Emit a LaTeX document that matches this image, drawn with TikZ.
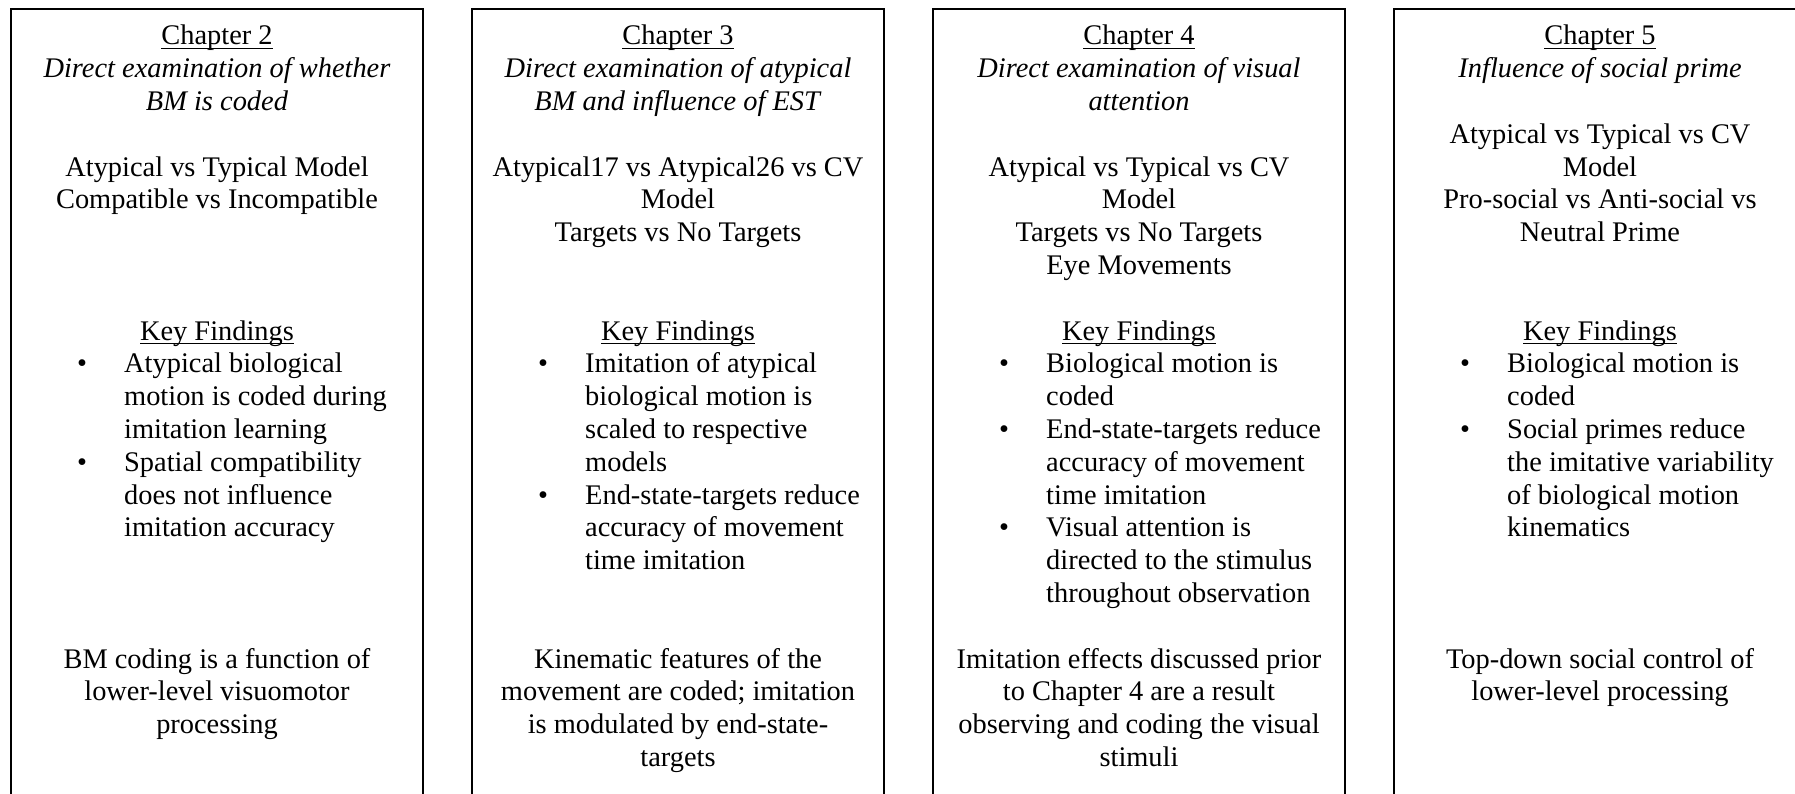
\documentclass[tikz,border=0pt]{standalone}
\usepackage{fontspec}
\setmainfont{Liberation Serif}

% underline at a fixed depth below the baseline
\newcommand\ulined[1]{\setbox0\hbox{#1}\rlap{\rule[-4.2pt]{\wd0}{1.5pt}}\box0}

% baseline of text row #1 (rows are evenly spaced)
\newcommand\rowy[1]{45+(#1-1)*32.79}

% centred rows: #1 name prefix, #2 x centre, #3 first row, #4 list of rows
\newcommand\putlines[4]{%
  \foreach \rowtxt [count=\kk from 0] in {#4} {
    \pgfmathtruncatemacro\rowno{#3+\kk}
    \node[txt] (#1-\rowno) at (#2,{\rowy{\rowno}}) {\rowtxt};
  }}

% bulleted item: #1 name prefix, #2 panel left edge, #3 first row, #4 list of rows
\newcommand\bullist[4]{%
  \pgfmathtruncatemacro\firstrow{#3}
  \node[txt] (#1-dot\firstrow) at ({#2+71},{\rowy{#3}}) {•};
  \foreach \rowtxt [count=\kk from 0] in {#4} {
    \pgfmathtruncatemacro\rowno{#3+\kk}
    \node[btxt] (#1-\rowno) at ({#2+113},{\rowy{\rowno}}) {\rowtxt};
  }}

\begin{document}
\begin{tikzpicture}[x=1pt,y=-1pt,
  panel/.style={draw=black,line width=1.5pt,inner sep=0pt,outer sep=0pt,
    minimum width=412pt,minimum height=830pt,anchor=north west},
  txt/.style={anchor=base,inner sep=0pt,font=\fontsize{28.4pt}{32.8pt}\selectfont},
  btxt/.style={txt,anchor=base west}]
\clip (0,0) rectangle (1795,794);
\fill[white] (0,0) rectangle (1795,794);

% four chapter panels
\node[panel] (p2) at (11,9) {};
\node[panel] (p3) at (472,9) {};
\node[panel] (p4) at (933,9) {};
\node[panel] (p5) at (1394,9) {};

% Chapter 2
\putlines{a}{217}{1}{\ulined{Chapter 2},\textit{Direct examination of whether},\textit{BM is coded}}
\putlines{a}{217}{5}{Atypical vs Typical Model,Compatible vs Incompatible}
\putlines{a}{217}{10}{\ulined{Key Findings}}
\bullist{a}{11}{11}{Atypical biological,motion is coded during,imitation learning}
\bullist{a}{11}{14}{Spatial compatibility,does not influence,imitation accuracy}
\putlines{a}{217}{20}{BM coding is a function of,lower-level visuomotor,processing}

% Chapter 3
\putlines{b}{678}{1}{\ulined{Chapter 3},\textit{Direct examination of atypical},\textit{BM and influence of EST}}
\putlines{b}{678}{5}{Atypical17 vs Atypical26 vs CV,Model,Targets vs No Targets}
\putlines{b}{678}{10}{\ulined{Key Findings}}
\bullist{b}{472}{11}{Imitation of atypical,biological motion is,scaled to respective,models}
\bullist{b}{472}{15}{End-state-targets reduce,accuracy of movement,time imitation}
\putlines{b}{678}{20}{Kinematic features of the,movement are coded; imitation,is modulated by end-state-,targets}

% Chapter 4
\putlines{c}{1139}{1}{\ulined{Chapter 4},\textit{Direct examination of visual},\textit{attention}}
\putlines{c}{1139}{5}{Atypical vs Typical vs CV,Model,Targets vs No Targets,Eye Movements}
\putlines{c}{1139}{10}{\ulined{Key Findings}}
\bullist{c}{933}{11}{Biological motion is,coded}
\bullist{c}{933}{13}{End-state-targets reduce,accuracy of movement,time imitation}
\bullist{c}{933}{16}{Visual attention is,directed to the stimulus,throughout observation}
\putlines{c}{1139}{20}{Imitation effects discussed prior,to Chapter 4 are a result,observing and coding the visual,stimuli}

% Chapter 5
\putlines{d}{1600}{1}{\ulined{Chapter 5},\textit{Influence of social prime}}
\putlines{d}{1600}{4}{Atypical vs Typical vs CV,Model,Pro-social vs Anti-social vs,Neutral Prime}
\putlines{d}{1600}{10}{\ulined{Key Findings}}
\bullist{d}{1394}{11}{Biological motion is,coded}
\bullist{d}{1394}{13}{Social primes reduce,the imitative variability,of biological motion,kinematics}
\putlines{d}{1600}{20}{Top-down social control of,lower-level processing}
\end{tikzpicture}
\end{document}
